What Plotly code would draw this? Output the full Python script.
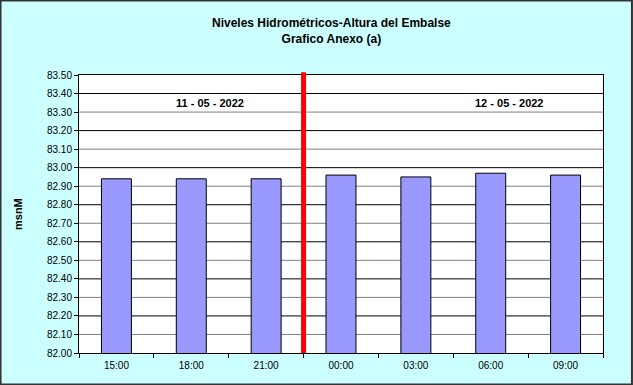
import plotly.graph_objects as go

categories = ["15:00", "18:00", "21:00", "00:00", "03:00", "06:00", "09:00"]
levels = [82.94, 82.94, 82.94, 82.96, 82.95, 82.97, 82.96]
y_ticks = [82.00, 82.10, 82.20, 82.30, 82.40, 82.50, 82.60, 82.70, 82.80, 82.90,
           83.00, 83.10, 83.20, 83.30, 83.40, 83.50]
date_labels = ["11 - 05 - 2022", "12 - 05 - 2022"]
date_label_pos = [1.25, 5.25]
date_label_y = 83.35
divider_pos = 2.5

W, H = 633, 385
ml, mr, mt, mb = 79, 30, 75, 32
pw, ph = W - ml - mr, H - mt - mb

fig = go.Figure()
fig.add_trace(go.Bar(
    x=categories, y=levels, width=0.4,
    marker=dict(color="#9999FF", line=dict(color="#000000", width=1)),
    showlegend=False,
))

shapes = []
for i, v in enumerate(y_ticks[1:-1], start=1):
    shapes.append(dict(type="line", xref="paper", yref="y", x0=0, x1=1, y0=v, y1=v,
                       line=dict(color="#000000" if i % 2 == 0 else "#808080", width=1),
                       layer="below"))
shapes.append(dict(type="line", xref="x", yref="paper", x0=divider_pos, x1=divider_pos,
                   y0=0, y1=1.01, line=dict(color="#FF0000", width=5)))
shapes.append(dict(type="rect", xref="paper", yref="paper",
                   x0=-ml / pw + 0.001, x1=1 + mr / pw - 0.002,
                   y0=-mb / ph + 0.002, y1=1 + mt / ph - 0.002,
                   line=dict(color="#333333", width=2)))

annotations = [dict(x=xp, y=date_label_y, xref="x", yref="y", text=f"<b>{t}</b>", showarrow=False,
                    font=dict(family="Arial", size=11, color="#000000"))
               for t, xp in zip(date_labels, date_label_pos)]
annotations.append(dict(x=-ml / pw + 10 / pw, y=0.5, xref="paper", yref="paper",
                        text="<b>msnM</b>", textangle=-90, showarrow=False,
                        font=dict(family="Arial", size=11, color="#000000")))
annotations.append(dict(x=(ml + pw / 2 - 10) / W, y=1 - 31 / H, xref="paper", yref="paper",
                        text="<b>Niveles Hidrométricos-Altura del Embalse<br>Grafico Anexo (a)</b>",
                        showarrow=False, xanchor="center", yanchor="middle",
                        font=dict(family="Arial", size=12, color="#000000")))
# convert last annotation to container-relative coordinates
annotations[-1]["x"] = (W * annotations[-1]["x"] - ml) / pw
annotations[-1]["y"] = ((1 - 31 / H) * H - mb) / ph

fig.update_layout(
    width=W, height=H,
    margin=dict(l=ml, r=mr, t=mt, b=mb),
    paper_bgcolor="#CCFFFF",
    plot_bgcolor="#FFFFFF",
    shapes=shapes,
    annotations=annotations,
    bargap=0.6,
    font=dict(family="Arial", size=10, color="#000000"),
)
fig.update_xaxes(
    type="category", range=[-0.5, 6.5], showgrid=False,
    showline=True, linecolor="#000000", linewidth=1, mirror=True,
    ticks="outside", ticklen=4, tickcolor="#000000", tickson="boundaries",
    ticklabelstandoff=3,
    tickfont=dict(family="Arial", size=10),
)
fig.update_yaxes(
    range=[82.0, 83.5], tickvals=y_ticks, ticktext=[f"{v:.2f}" for v in y_ticks],
    showgrid=False, zeroline=False,
    showline=True, linecolor="#000000", linewidth=1, mirror=True,
    ticks="outside", ticklen=4, tickcolor="#000000",
    tickfont=dict(family="Arial", size=10),
)

fig.write_html("out.html")
